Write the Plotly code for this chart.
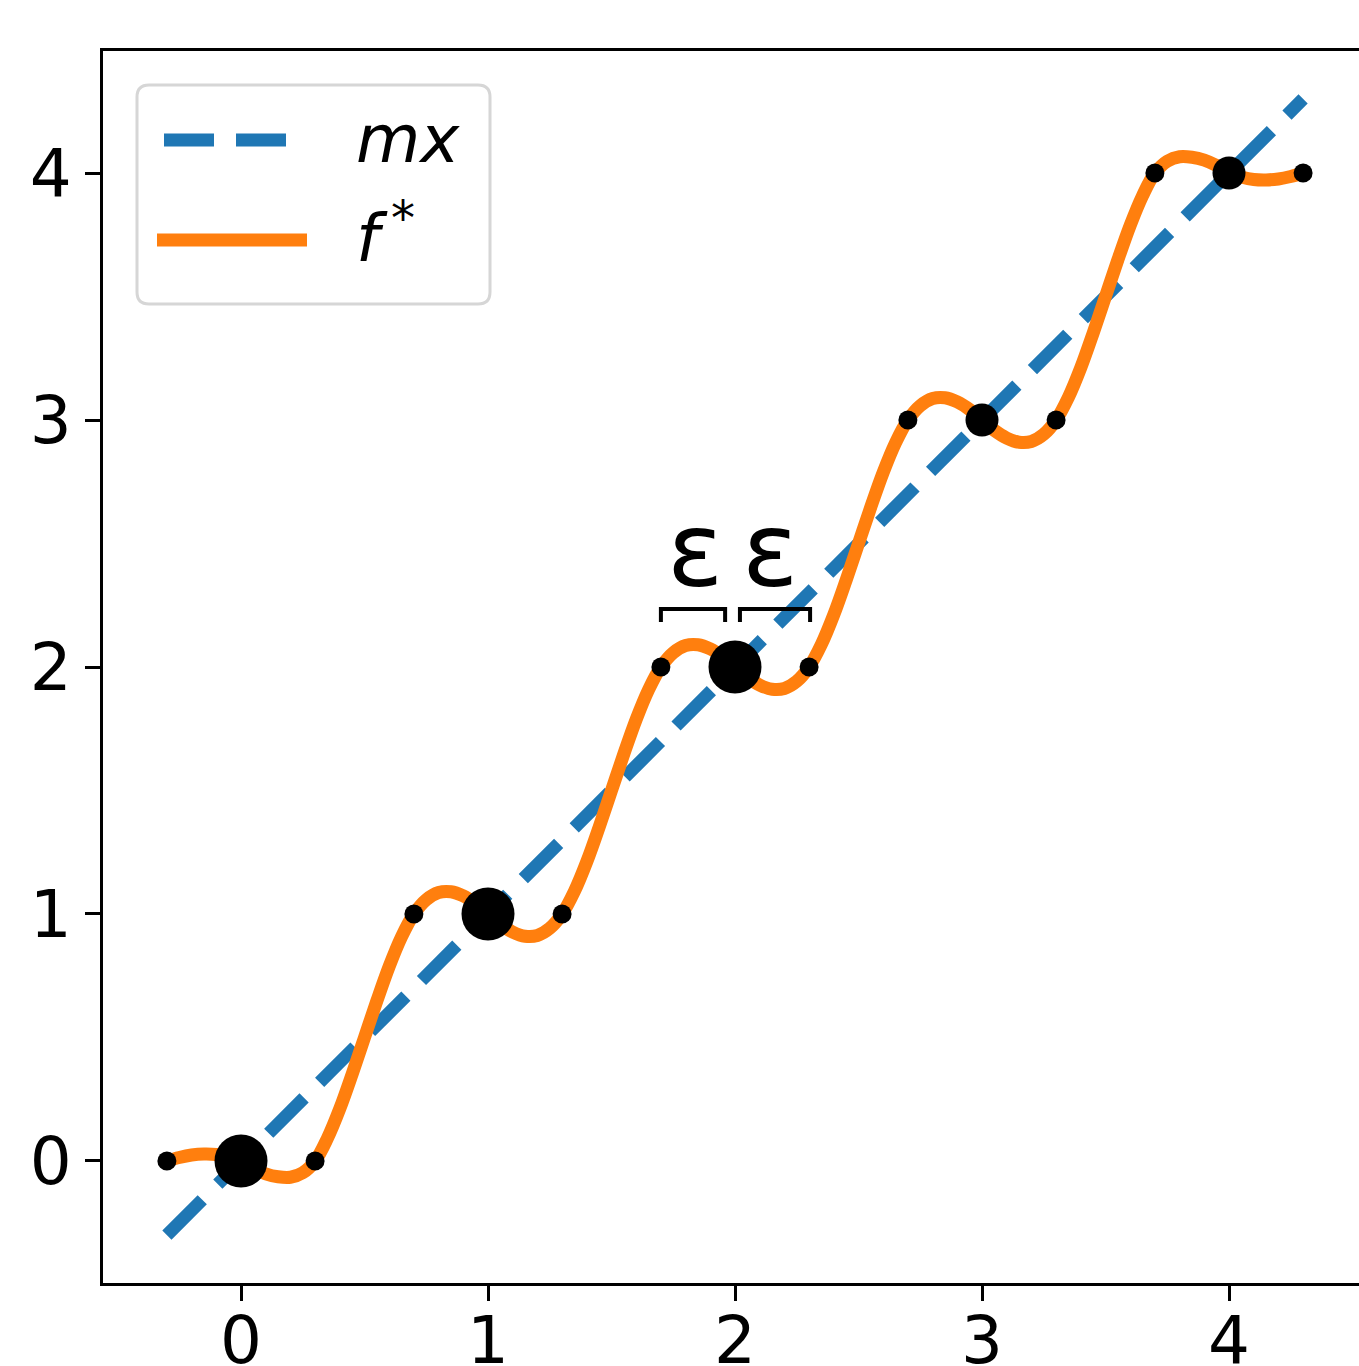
import plotly.graph_objects as go

# ---- data ----
MX_X = [-0.3, 4.3]
MX_Y = [-0.3, 4.3]

F_X = [-0.30, -0.25, -0.20, -0.15, -0.10, -0.05, 0.00, 0.05, 0.10, 0.15, 0.20, 0.25, 0.30,
       0.35, 0.40, 0.45, 0.50, 0.55, 0.60, 0.65,
       0.70, 0.75, 0.80, 0.85, 0.90, 0.95, 1.00, 1.05, 1.10, 1.15, 1.20, 1.25, 1.30,
       1.35, 1.40, 1.45, 1.50, 1.55, 1.60, 1.65,
       1.70, 1.75, 1.80, 1.85, 1.90, 1.95, 2.00, 2.05, 2.10, 2.15, 2.20, 2.25, 2.30,
       2.35, 2.40, 2.45, 2.50, 2.55, 2.60, 2.65,
       2.70, 2.75, 2.80, 2.85, 2.90, 2.95, 3.00, 3.05, 3.10, 3.15, 3.20, 3.25, 3.30,
       3.35, 3.40, 3.45, 3.50, 3.55, 3.60, 3.65,
       3.70, 3.75, 3.80, 3.85, 3.90, 3.95, 4.00, 4.05, 4.10, 4.15, 4.20, 4.25, 4.30]
F_Y = [0.000, 0.014, 0.024, 0.028, 0.026, 0.016, 0.000, -0.030, -0.052, -0.064, -0.066, -0.048, 0.000,
       0.092, 0.212, 0.352, 0.500, 0.648, 0.788, 0.908,
       1.000, 1.058, 1.087, 1.090, 1.073, 1.042, 1.000, 0.958, 0.927, 0.910, 0.913, 0.942, 1.000,
       1.092, 1.212, 1.352, 1.500, 1.648, 1.788, 1.908,
       2.000, 2.058, 2.087, 2.090, 2.073, 2.042, 2.000, 1.958, 1.927, 1.910, 1.913, 1.942, 2.000,
       2.092, 2.212, 2.352, 2.500, 2.648, 2.788, 2.908,
       3.000, 3.058, 3.087, 3.090, 3.073, 3.042, 3.000, 2.958, 2.927, 2.910, 2.913, 2.942, 3.000,
       3.092, 3.212, 3.352, 3.500, 3.648, 3.788, 3.908,
       4.000, 4.048, 4.066, 4.064, 4.052, 4.030, 4.000, 3.984, 3.974, 3.972, 3.976, 3.986, 4.000]

SMALL_X = [-0.3, 0.3, 0.7, 1.3, 1.7, 2.3, 2.7, 3.3, 3.7, 4.3]
SMALL_Y = [0, 0, 1, 1, 2, 2, 3, 3, 4, 4]
BIG_X = [0, 1, 2]
BIG_Y = [0, 1, 2]
MID_X = [3, 4]
MID_Y = [3, 4]

TICK_VALS = [0, 1, 2, 3, 4]
TICK_TEXT = ["0", "1", "2", "3", "4"]

EPS_X = [1.838, 2.142]
EPS_Y = [2.475, 2.475]
EPS_TEXT = ["ε", "ε"]
BRACKET_X0 = [1.700, 2.020]
BRACKET_X1 = [1.960, 2.304]
BRACKET_TOP = 2.235
BRACKET_BOTTOM = 2.182

LEGEND_LABELS = ["<i>mx</i>", "<i>f</i>"]
LEGEND_SUP = "*"

BLUE = "#1f77b4"
ORANGE = "#ff7f0e"
FONT = "DejaVu Sans"

W, H = 1359, 1366
L, R, T, B = 103, 0, 51, 83
PW, PH = W - L - R, H - T - B


def fx(px):
    return (px - L) / PW


def fy(py):
    return (H - B - py) / PH


fig = go.Figure()
fig.add_trace(go.Scatter(x=MX_X, y=MX_Y, mode="lines",
                         line=dict(color=BLUE, width=13, dash="50px,22px"),
                         showlegend=False, hoverinfo="skip"))
fig.add_trace(go.Scatter(x=F_X, y=F_Y, mode="lines",
                         line=dict(color=ORANGE, width=13, shape="spline", smoothing=1),
                         showlegend=False, hoverinfo="skip"))
fig.add_trace(go.Scatter(x=SMALL_X, y=SMALL_Y, mode="markers",
                         marker=dict(color="black", size=19, line=dict(width=0)),
                         showlegend=False, hoverinfo="skip"))
fig.add_trace(go.Scatter(x=BIG_X, y=BIG_Y, mode="markers",
                         marker=dict(color="black", size=53, line=dict(width=0)),
                         showlegend=False, hoverinfo="skip"))
fig.add_trace(go.Scatter(x=MID_X, y=MID_Y, mode="markers",
                         marker=dict(color="black", size=33, line=dict(width=0)),
                         showlegend=False, hoverinfo="skip"))

shapes = []
# epsilon brackets
for x0, x1 in zip(BRACKET_X0, BRACKET_X1):
    shapes.append(dict(type="path", xref="x", yref="y",
                       path=f"M {x0} {BRACKET_BOTTOM} L {x0} {BRACKET_TOP} L {x1} {BRACKET_TOP} L {x1} {BRACKET_BOTTOM}",
                       line=dict(color="black", width=4)))

# legend box (rounded)
lx0, lx1, ly0, ly1, rr = 137, 490, 85, 304, 12
p = (f"M {fx(lx0 + rr)} {fy(ly0)} L {fx(lx1 - rr)} {fy(ly0)} "
     f"Q {fx(lx1)} {fy(ly0)} {fx(lx1)} {fy(ly0 + rr)} "
     f"L {fx(lx1)} {fy(ly1 - rr)} Q {fx(lx1)} {fy(ly1)} {fx(lx1 - rr)} {fy(ly1)} "
     f"L {fx(lx0 + rr)} {fy(ly1)} Q {fx(lx0)} {fy(ly1)} {fx(lx0)} {fy(ly1 - rr)} "
     f"L {fx(lx0)} {fy(ly0 + rr)} Q {fx(lx0)} {fy(ly0)} {fx(lx0 + rr)} {fy(ly0)} Z")
shapes.append(dict(type="path", xref="paper", yref="paper", path=p,
                   line=dict(color="#d6d6d6", width=3), fillcolor="white", layer="above"))
shapes.append(dict(type="line", xref="paper", yref="paper",
                   x0=fx(164), x1=fx(300), y0=fy(140), y1=fy(140),
                   line=dict(color=BLUE, width=13, dash="50px,22px"), layer="above"))
shapes.append(dict(type="line", xref="paper", yref="paper",
                   x0=fx(157), x1=fx(307), y0=fy(240), y1=fy(240),
                   line=dict(color=ORANGE, width=13), layer="above"))

annotations = []
for x, y, t in zip(EPS_X, EPS_Y, EPS_TEXT):
    annotations.append(dict(x=x, y=y, xref="x", yref="y", text=t, showarrow=False,
                            xanchor="center", yanchor="middle",
                            font=dict(family=FONT, size=104, color="black")))
for lab, py in zip(LEGEND_LABELS, [140, 238]):
    annotations.append(dict(x=fx(354), y=fy(py), xref="paper", yref="paper", text=lab,
                            showarrow=False, xanchor="left", yanchor="middle",
                            font=dict(family=FONT, size=66, color="black")))
annotations.append(dict(x=fx(403), y=fy(218), xref="paper", yref="paper", text=LEGEND_SUP,
                        showarrow=False, xanchor="center", yanchor="middle",
                        font=dict(family=FONT, size=48, color="black")))

axis_common = dict(showgrid=False, zeroline=False, showline=True, linecolor="black",
                   linewidth=3, ticks="outside", ticklen=15, tickwidth=3, tickcolor="black",
                   tickfont=dict(family=FONT, size=66, color="black"),
                   tickvals=TICK_VALS, ticktext=TICK_TEXT, automargin=False)

fig.update_layout(
    width=W, height=H,
    margin=dict(l=L, r=R, t=T, b=B, pad=0, autoexpand=False),
    paper_bgcolor="white", plot_bgcolor="white",
    xaxis=dict(range=[-0.5587, 4.5263], mirror=True, ticklabelstandoff=-17, **axis_common),
    yaxis=dict(range=[-0.494, 4.494], mirror=False, **axis_common),
    shapes=shapes, annotations=annotations, showlegend=False,
)

fig.write_html("out.html")
